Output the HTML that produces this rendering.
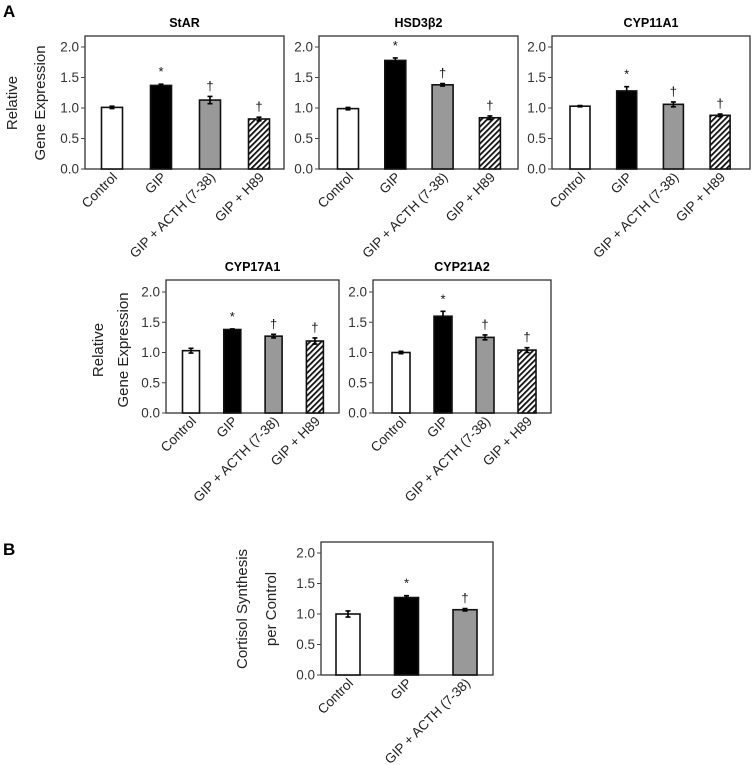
<!DOCTYPE html>
<html><head><meta charset="utf-8"><style>
html,body{margin:0;padding:0;background:#fff;}
svg{display:block;font-family:"Liberation Sans",Arial,sans-serif;}
</style></head><body>
<svg id="fig" width="753" height="765" viewBox="0 0 753 765">
<defs>
<pattern id="hatch" patternUnits="userSpaceOnUse" width="4" height="4" patternTransform="rotate(45)">
<rect width="4" height="4" fill="#fff"/><rect width="1.8" height="4" fill="#111"/>
</pattern>
</defs>
<text x="3" y="17" font-size="17" font-weight="bold">A</text>
<text x="3" y="555" font-size="17" font-weight="bold">B</text>
<g font-size="15" fill="#222">
<text transform="translate(17,103) rotate(-90)" text-anchor="middle">Relative</text>
<text transform="translate(45,103) rotate(-90)" text-anchor="middle">Gene Expression</text>
</g>
<g font-size="15" fill="#222">
<text transform="translate(103,350) rotate(-90)" text-anchor="middle">Relative</text>
<text transform="translate(128,350) rotate(-90)" text-anchor="middle">Gene Expression</text>
</g>
<g font-size="15" fill="#222">
<text transform="translate(247,609) rotate(-90)" text-anchor="middle">Cortisol Synthesis</text>
<text transform="translate(276,609) rotate(-90)" text-anchor="middle">per Control</text>
</g>
</svg>
<script>
const categories = ["Control", "GIP", "GIP + ACTH (7-38)", "GIP + H89"];
const yTicks = [0, 0.5, 1.0, 1.5, 2.0];
const yTickLabels = ["0.0", "0.5", "1.0", "1.5", "2.0"];
const starValues = [1.01, 1.37, 1.13, 0.82];
const starErrors = [0.02, 0.02, 0.06, 0.03];
const hsdValues = [0.99, 1.78, 1.38, 0.84];
const hsdErrors = [0.02, 0.04, 0.02, 0.03];
const cyp11Values = [1.03, 1.28, 1.06, 0.88];
const cyp11Errors = [0.01, 0.07, 0.04, 0.02];
const cyp17Values = [1.03, 1.38, 1.27, 1.19];
const cyp17Errors = [0.04, 0.01, 0.03, 0.05];
const cyp21Values = [1.00, 1.60, 1.25, 1.04];
const cyp21Errors = [0.02, 0.08, 0.04, 0.04];
const cortisolCategories = ["Control", "GIP", "GIP + ACTH (7-38)"];
const cortisolValues = [1.00, 1.27, 1.07];
const cortisolErrors = [0.05, 0.03, 0.02];
const starMarks = ["", "*", "†", "†"];
const cortisolMarks = ["", "*", "†"];

const NS = "http://www.w3.org/2000/svg";
const svg = document.getElementById("fig");
const fills = ["#fff", "#000", "#999", "url(#hatch)"];
const fillNames = ["control", "gip", "acth", "h89"];

function mk(tag, attrs, parent) {
  const e = document.createElementNS(NS, tag);
  for (const k in attrs) e.setAttribute(k, attrs[k]);
  (parent || svg).appendChild(e);
  return e;
}

function panel(id, title, box, cats, vals, errs, marks, barW, first, step) {
  const g = mk("g", {});
  
  
  const y = v => box.y0 - (v / 2.0) * (box.y0 - box.y2);
  const xc = i => first + i * step;
  if (title) {
    const t = mk("text", {x: (box.l + box.r) / 2, y: box.t - 9, "text-anchor": "middle", "font-size": 12.5, "font-weight": "bold"}, g);
    t.textContent = title;
    
    
  }
  const frame = mk("rect", {x: box.l, y: box.t, width: box.r - box.l, height: box.y0 - box.t, fill: "none", stroke: "#333", "stroke-width": 1.3}, g);
  
  
  yTicks.forEach((tv, k) => {
    const yy = y(tv);
    mk("line", {x1: box.l - 4, x2: box.l, y1: yy, y2: yy, stroke: "#444", "stroke-width": 1}, g);
    const tl = mk("text", {x: box.l - 6, y: yy + 4.5, "text-anchor": "end", "font-size": 13.5, fill: "#333"}, g);
    tl.textContent = yTickLabels[k];
    
    
  });
  vals.forEach((v, i) => {
    const cx = xc(i);
    const b = mk("rect", {x: cx - barW / 2, y: y(v), width: barW, height: y(0) - y(v), fill: fills[i], stroke: "#111", "stroke-width": 1.6}, g);
    
    
    const e = errs[i];
    const eb = mk("path", {d: `M${cx},${y(v - e)}V${y(v + e)}M${cx - 2.5},${y(v + e)}H${cx + 2.5}M${cx - 2.5},${y(v - e)}H${cx + 2.5}`, stroke: "#000", "stroke-width": 1.6, fill: "none"}, g);
    
    
    if (marks[i]) {
      const m = mk("text", {x: cx, y: y(v + e) - (marks[i] === "*" ? 8 : 6), "text-anchor": "middle", "font-size": 13, fill: "#111"}, g);
      m.textContent = marks[i];
      
      
    }
    const lx = cx + 6, ly = box.y0 + 9;
    const cl = mk("text", {x: lx, y: ly, "text-anchor": "end", "font-size": 13.5, fill: "#222", transform: `rotate(-45 ${lx} ${ly})`}, g);
    cl.textContent = cats[i];
    
    
  });
}

const r1 = {t: 36, y0: 169, y2: 47};
panel("star", "StAR", {...r1, l: 85, r: 284}, categories, starValues, starErrors, starMarks, 21, 112, 49);
panel("hsd3b2", "HSD3β2", {...r1, l: 319, r: 518}, categories, hsdValues, hsdErrors, starMarks, 21, 348, 47.3);
panel("cyp11a1", "CYP11A1", {...r1, l: 552, r: 750}, categories, cyp11Values, cyp11Errors, starMarks, 20, 580, 46.7);
const r2 = {t: 280, y0: 413, y2: 292};
panel("cyp17a1", "CYP17A1", {...r2, l: 166, r: 339}, categories, cyp17Values, cyp17Errors, starMarks, 17, 191, 41.3);
panel("cyp21a2", "CYP21A2", {...r2, l: 373, r: 551}, categories, cyp21Values, cyp21Errors, starMarks, 18, 401, 42);
panel("cortisol", "", {t: 542, y0: 675, y2: 553, l: 321, r: 493}, cortisolCategories, cortisolValues, cortisolErrors, cortisolMarks, 24, 348, 58.5);
</script>
</body></html>
